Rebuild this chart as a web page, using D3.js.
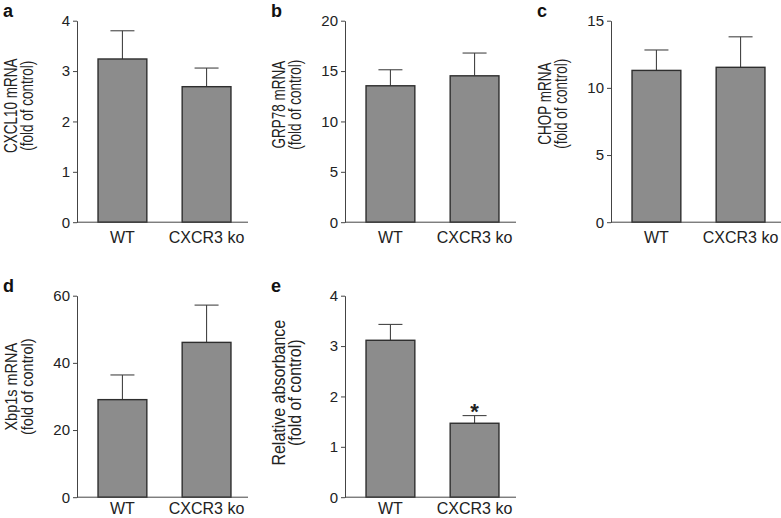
<!DOCTYPE html>
<html>
<head>
<meta charset="utf-8">
<script src="https://cdn.jsdelivr.net/npm/d3@7/dist/d3.min.js"></script>
<style>
  html, body { margin: 0; padding: 0; background: #fff; }
  svg { display: block; font-family: "Liberation Sans", Arial, sans-serif; }
  .axis path, .axis line { stroke: #444; stroke-width: 1; }
  .axis text { fill: #222; font-size: 15px; }
</style>
</head>
<body>
<div id="chart"></div>
<script>
// ---- data ----
const groups = ['WT', 'CXCR3 ko'];
const panelLetters = ['a', 'b', 'c', 'd', 'e'];
const yTitles = ['CXCL10 mRNA', 'GRP78 mRNA', 'CHOP mRNA', 'Xbp1s mRNA', 'Relative absorbance'];
const ySubTitle = '(fold of control)';
const yMax = [4, 20, 15, 60, 4];
const yTicks = [[0, 1, 2, 3, 4], [0, 5, 10, 15, 20], [0, 5, 10, 15], [0, 20, 40, 60], [0, 1, 2, 3, 4]];
const meanWT = [3.24, 13.54, 11.3, 29.05, 3.115];
const meanKO = [2.69, 14.53, 11.53, 46.1, 1.468];
const errWT = [0.56, 1.59, 1.52, 7.35, 0.315];
const errKO = [0.37, 2.26, 2.27, 11.1, 0.152];
const starKO = [false, false, false, false, true];

// ---- layout ----
const W = 781, H = 518;
const axisX = [77, 345, 611, 77, 345];
const plotTop = [20.7, 20.7, 20.7, 295.7, 295.7];
const xLabGap = [20.5, 20.5, 20.5, 17, 17];
const titleSize = [13.5, 13.5, 13.5, 14.5, 16];
const titleStretch = [1.3, 1.3, 1.3, 1.2, 1.15];
const titleMid = [85, 84, 83, 91, 97];
const plotH = 201.5, plotW = 171;

const svg = d3.select('#chart').append('svg').attr('width', W).attr('height', H);

panelLetters.forEach((letter, i) => {
  const g = svg.append('g').attr('transform', `translate(${axisX[i]},${plotTop[i]})`);

  const x = d3.scaleBand().domain(groups).range([0, 175]).paddingInner(0.42).paddingOuter(0.25);
  const y = d3.scaleLinear().domain([0, yMax[i]]).range([plotH, 0]);

  const rows = groups.map((grp, j) => ({
    grp,
    mean: j === 0 ? meanWT[i] : meanKO[i],
    err: j === 0 ? errWT[i] : errKO[i],
    star: j === 1 && starKO[i]
  }));
  const cx = d => x(d.grp) + x.bandwidth() / 2;

  // error bars (upper only)
  const eb = g.selectAll('.err').data(rows).join('g').attr('class', 'err')
    .attr('stroke', '#444').attr('stroke-width', 1.1);
  eb.append('line')
    .attr('x1', cx).attr('x2', cx)
    .attr('y1', d => y(d.mean)).attr('y2', d => y(d.mean + d.err));
  eb.append('line')
    .attr('x1', d => cx(d) - 12).attr('x2', d => cx(d) + 12)
    .attr('y1', d => y(d.mean + d.err)).attr('y2', d => y(d.mean + d.err));

  // bars
  g.selectAll('.bar').data(rows).join('rect').attr('class', 'bar')
    .attr('x', d => x(d.grp)).attr('width', x.bandwidth())
    .attr('y', d => y(d.mean)).attr('height', d => y(0) - y(d.mean))
    .attr('fill', '#8c8c8c').attr('stroke', '#2e2e2e').attr('stroke-width', 1.4);

  // significance star
  g.selectAll('.star').data(rows.filter(d => d.star)).join('text').attr('class', 'star')
    .attr('x', cx)
    .attr('y', d => y(d.mean + d.err) + 3)
    .attr('text-anchor', 'middle').attr('font-size', 22).attr('font-weight', 'bold').attr('fill', '#222')
    .text('*');

  // y axis
  g.append('g').attr('class', 'axis')
    .call(d3.axisLeft(y).tickValues(yTicks[i]).tickSize(4).tickSizeOuter(0).tickPadding(3).tickFormat(d3.format('d')));

  // x axis line (no ticks)
  g.append('line').attr('x1', 0).attr('x2', plotW).attr('y1', plotH).attr('y2', plotH)
    .attr('stroke', '#444').attr('stroke-width', 1);

  g.selectAll('.xlab').data(groups).join('text').attr('class', 'xlab')
    .attr('x', d => x(d) + x.bandwidth() / 2).attr('y', plotH + xLabGap[i])
    .attr('text-anchor', 'middle').attr('font-size', 16).attr('fill', '#222')
    .text(d => d);

  // y titles (two lines, rotated; glyphs a bit wide as in the scan)
  const cy = titleMid[i];
  const tf = off => `translate(${off},${cy}) rotate(-90) scale(1,${titleStretch[i]})`;
  g.append('text').attr('transform', tf(-60))
    .attr('text-anchor', 'middle').attr('font-size', titleSize[i]).attr('fill', '#222').text(yTitles[i]);
  g.append('text').attr('transform', tf(-44))
    .attr('text-anchor', 'middle').attr('font-size', titleSize[i]).attr('fill', '#222').text(ySubTitle);

  // panel letter
  svg.append('text').attr('x', axisX[i] - 74).attr('y', plotTop[i] - 4)
    .attr('font-size', 18).attr('font-weight', 'bold').attr('fill', '#111').text(letter);
});
</script>
</body>
</html>
